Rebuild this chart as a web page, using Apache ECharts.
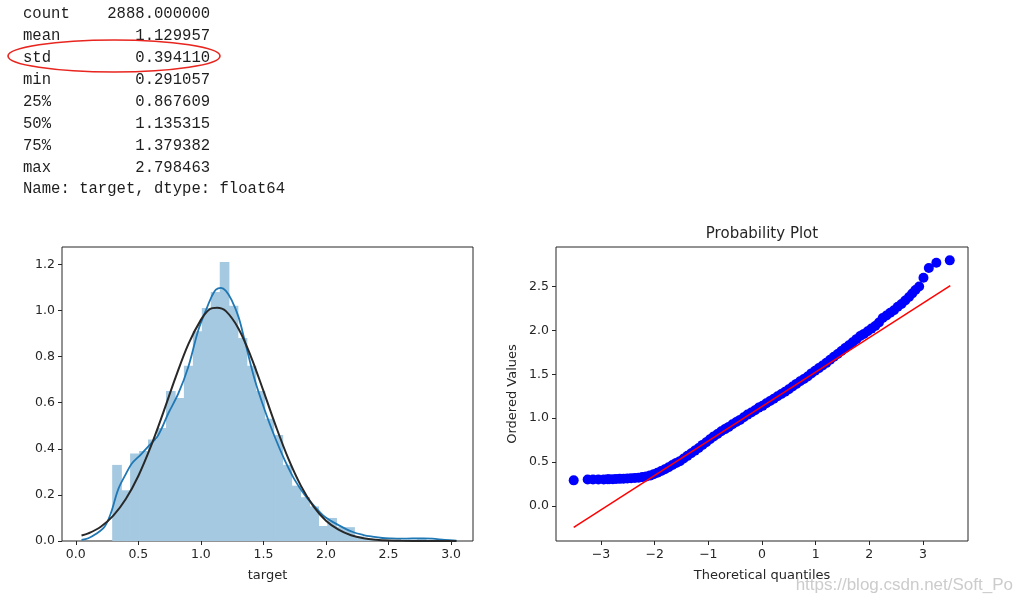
<!DOCTYPE html>
<html>
<head>
<meta charset="utf-8">
<script src="https://cdn.jsdelivr.net/npm/echarts@6/dist/echarts.min.js"></script>
<style>
  html, body { margin: 0; padding: 0; background: #fff; }
  #chart { width: 1019px; height: 603px; }
</style>
</head>
<body>
<div id="chart"></div>
<script>
// ---------- data ----------
const statLabels = ['count', 'mean', 'std', 'min', '25%', '50%', '75%', 'max'];
const statValues = ['2888.000000', '1.129957', '0.394110', '0.291057', '0.867609', '1.135315', '1.379382', '2.798463'];
const statFooter = 'Name: target, dtype: float64';

// histogram (density) of target, 35 equal bins between min and max
const histRange = [0.291057, 2.798463];
const histDensity = [
  0.33, 0.22, 0.38, 0.39, 0.44, 0.49, 0.65, 0.62, 0.76, 0.91,
  1.01, 1.08, 1.21, 1.02, 0.88, 0.76, 0.65, 0.53, 0.46, 0.33,
  0.24, 0.19, 0.15, 0.065, 0.10, 0.06, 0.06, 0.02, 0.01, 0.005,
  0.004, 0.003, 0.003, 0.006, 0.01
];

// KDE curve (blue)
const kdeCurve = [
  [0.046, 0.005], [0.10, 0.012], [0.16, 0.03], [0.23, 0.062], [0.28, 0.12], [0.34, 0.225],
  [0.40, 0.29], [0.447, 0.335], [0.52, 0.375], [0.58, 0.41], [0.66, 0.46], [0.74, 0.554],
  [0.82, 0.64], [0.90, 0.756], [0.98, 0.915], [1.04, 1.00], [1.086, 1.06], [1.12, 1.09],
  [1.16, 1.098], [1.20, 1.085], [1.246, 1.045], [1.30, 0.973], [1.35, 0.87], [1.43, 0.70],
  [1.51, 0.568], [1.59, 0.452], [1.67, 0.351], [1.75, 0.265], [1.83, 0.20], [1.91, 0.149],
  [1.99, 0.105], [2.10, 0.069], [2.21, 0.040], [2.30, 0.026], [2.37, 0.019], [2.45, 0.013],
  [2.52, 0.011], [2.60, 0.010], [2.69, 0.011], [2.78, 0.011], [2.85, 0.010], [2.95, 0.005],
  [3.043, 0.002]
];

// fitted normal curve (dark)
const normCurve = [
  [0.046, 0.024], [0.1, 0.033], [0.2, 0.062], [0.3, 0.110], [0.4, 0.182], [0.5, 0.282],
  [0.6, 0.410], [0.7, 0.558], [0.8, 0.713], [0.9, 0.854], [1.0, 0.959], [1.07, 1.005],
  [1.13, 1.012], [1.2, 0.997], [1.3, 0.922], [1.4, 0.800], [1.5, 0.651], [1.6, 0.497],
  [1.7, 0.356], [1.8, 0.239], [1.9, 0.150], [2.0, 0.088], [2.1, 0.049], [2.2, 0.025],
  [2.3, 0.012], [2.4, 0.0056], [2.5, 0.0024], [2.6, 0.001], [2.8, 0.0002], [3.043, 0.0]
];

// probability plot: [theoretical quantile, ordered value]
const probPoints = [
  [-3.51, 0.291], [-3.25, 0.300], [-3.15, 0.300], [-3.05, 0.301], [-2.95, 0.302], [-2.88, 0.303],
  [-2.85, 0.303], [-2.78, 0.305], [-2.72, 0.306], [-2.65, 0.308], [-2.58, 0.310], [-2.51, 0.312],
  [-2.44, 0.315], [-2.37, 0.318], [-2.30, 0.322], [-2.23, 0.328], [-2.16, 0.335], [-2.09, 0.345],
  [-2.02, 0.360], [-1.95, 0.378], [-1.88, 0.398], [-1.81, 0.418], [-1.74, 0.440], [-1.67, 0.465],
  [-1.60, 0.490], [-1.53, 0.510], [-1.46, 0.540], [-1.39, 0.570], [-1.32, 0.600], [-1.25, 0.630],
  [-1.18, 0.660], [-1.11, 0.695], [-1.04, 0.725], [-0.97, 0.760], [-0.90, 0.792], [-0.83, 0.820],
  [-0.76, 0.850], [-0.69, 0.875], [-0.62, 0.900], [-0.55, 0.930], [-0.48, 0.955], [-0.41, 0.980],
  [-0.34, 1.010], [-0.27, 1.040], [-0.20, 1.065], [-0.13, 1.090], [-0.06, 1.120], [0.01, 1.140],
  [0.08, 1.170], [0.15, 1.195], [0.22, 1.220], [0.29, 1.250], [0.36, 1.275], [0.43, 1.300],
  [0.50, 1.330], [0.57, 1.360], [0.64, 1.390], [0.71, 1.420], [0.78, 1.445], [0.85, 1.475],
  [0.92, 1.510], [0.99, 1.540], [1.06, 1.570], [1.13, 1.600], [1.20, 1.630], [1.27, 1.665],
  [1.34, 1.700], [1.41, 1.730], [1.48, 1.765], [1.55, 1.800], [1.62, 1.830], [1.69, 1.865],
  [1.76, 1.900], [1.83, 1.935], [1.90, 1.960], [1.97, 1.990], [2.04, 2.020], [2.11, 2.050],
  [2.18, 2.090], [2.25, 2.140], [2.32, 2.170], [2.39, 2.200], [2.46, 2.230], [2.53, 2.270],
  [2.60, 2.300], [2.67, 2.340], [2.74, 2.380], [2.80, 2.420], [2.86, 2.460], [2.93, 2.500],
  [3.01, 2.600], [3.11, 2.710], [3.25, 2.770], [3.50, 2.798]
];
// least-squares fit line end points
const fitLine = [[-3.51, -0.244], [3.51, 2.510]];

// tick values
const histXTicks = [0.0, 0.5, 1.0, 1.5, 2.0, 2.5, 3.0];
const histYTicks = [0.0, 0.2, 0.4, 0.6, 0.8, 1.0, 1.2];
const probXTicks = [-3, -2, -1, 0, 1, 2, 3];
const probYTicks = [0.0, 0.5, 1.0, 1.5, 2.0, 2.5];

// ---------- build ----------
const binW = (histRange[1] - histRange[0]) / histDensity.length;
const histData = histDensity.map((d, i) => [histRange[0] + i * binW, histRange[0] + (i + 1) * binW, d]);

const TXT = '#262626';
const tickFont = { fontFamily: 'DejaVu Sans', fontSize: 12.5, color: TXT };
const minusFmt = v => (v < 0 ? '\u2212' + Math.abs(v) : String(v));

function axisCommon(ticks, fmt) {
  return {
    type: 'value',
    axisLine: { show: false, onZero: false },
    splitLine: { show: false },
    axisTick: { show: true, inside: false, length: 4, lineStyle: { color: TXT, width: 1 }, customValues: ticks },
    axisLabel: Object.assign({ margin: 7, customValues: ticks, formatter: fmt }, tickFont)
  };
}

const statLines = statLabels.map((l, i) => l.padEnd(20 - statValues[i].length) + statValues[i]);
statLines.push(statFooter);
const statY = [14, 36, 58, 80, 102, 124, 146, 168, 189];

const graphics = statLines.map((t, i) => ({
  type: 'text', x: 23, y: statY[i],
  style: { text: t, fill: '#1e1e1e', font: '15.6px "Liberation Mono", monospace', verticalAlign: 'middle' }
}));
graphics.push({
  type: 'ellipse', shape: { cx: 114, cy: 56, rx: 106, ry: 16 },
  style: { fill: 'none', stroke: '#e8251f', lineWidth: 1.6 }
});
graphics.push({
  type: 'text', x: 762, y: 234,
  style: { text: 'Probability Plot', fill: TXT, font: '15px "DejaVu Sans"', align: 'center', verticalAlign: 'middle' }
});
graphics.push({
  type: 'text', x: 1013, y: 585,
  style: { text: 'https://blog.csdn.net/Soft_Po', fill: '#cccccc', font: '17px "Liberation Sans"', align: 'right', verticalAlign: 'middle' }
});

const chart = echarts.init(document.getElementById('chart'), null, { renderer: 'canvas' });
chart.setOption({
  animation: false,
  backgroundColor: '#ffffff',
  grid: [
    { left: 62, top: 247, width: 411, height: 294, show: true, borderColor: TXT, borderWidth: 1, backgroundColor: 'transparent' },
    { left: 556, top: 247, width: 412, height: 294, show: true, borderColor: TXT, borderWidth: 1, backgroundColor: 'transparent' }
  ],
  xAxis: [
    Object.assign(axisCommon(histXTicks, v => v.toFixed(1)), {
      gridIndex: 0, min: -0.11, max: 3.175,
      name: 'target', nameLocation: 'middle', nameGap: 28,
      nameTextStyle: { fontFamily: 'DejaVu Sans', fontSize: 13, color: TXT }
    }),
    Object.assign(axisCommon(probXTicks, minusFmt), {
      gridIndex: 1, min: -3.84, max: 3.84,
      name: 'Theoretical quantiles', nameLocation: 'middle', nameGap: 28,
      nameTextStyle: { fontFamily: 'DejaVu Sans', fontSize: 13, color: TXT }
    })
  ],
  yAxis: [
    Object.assign(axisCommon(histYTicks, v => v.toFixed(1)), { gridIndex: 0, min: 0, max: 1.275 }),
    Object.assign(axisCommon(probYTicks, v => v.toFixed(1)), {
      gridIndex: 1, min: -0.40, max: 2.95,
      name: 'Ordered Values', nameLocation: 'middle', nameGap: 37,
      nameTextStyle: { fontFamily: 'DejaVu Sans', fontSize: 13, color: TXT }
    })
  ],
  series: [
    {
      type: 'custom', xAxisIndex: 0, yAxisIndex: 0, data: histData, z: 1,
      encode: { x: [0, 1], y: 2 },
      renderItem: (params, api) => {
        const p0 = api.coord([api.value(0), api.value(2)]);
        const p1 = api.coord([api.value(1), 0]);
        return {
          type: 'rect',
          shape: { x: p0[0], y: p0[1], width: p1[0] - p0[0] + 0.7, height: p1[1] - p0[1] },
          style: { fill: '#a5c9e1' }
        };
      }
    },
    {
      type: 'line', xAxisIndex: 0, yAxisIndex: 0, data: kdeCurve, smooth: 0.35, showSymbol: false, z: 3,
      lineStyle: { color: '#1f77b4', width: 1.8 }
    },
    {
      type: 'line', xAxisIndex: 0, yAxisIndex: 0, data: normCurve, smooth: 0.35, showSymbol: false, z: 4,
      lineStyle: { color: '#282828', width: 2 }
    },
    {
      type: 'scatter', xAxisIndex: 1, yAxisIndex: 1, data: probPoints, symbol: 'circle', symbolSize: 10, z: 3,
      itemStyle: { color: '#0000ff', opacity: 1 }
    },
    {
      type: 'line', xAxisIndex: 1, yAxisIndex: 1, data: fitLine, showSymbol: false, z: 4,
      lineStyle: { color: '#ff0000', width: 1.5 }
    }
  ],
  graphic: graphics
});
</script>
</body>
</html>
